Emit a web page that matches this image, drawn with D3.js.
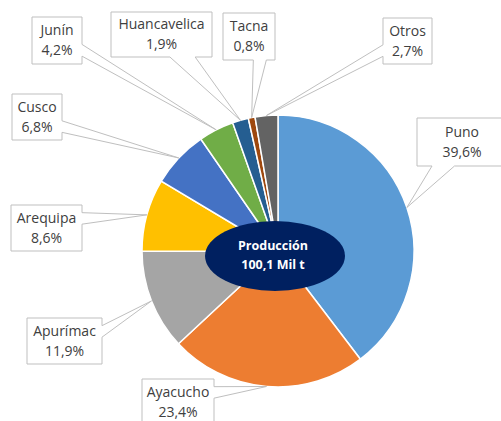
<!DOCTYPE html>
<html>
<head>
<meta charset="utf-8">
<script src="https://cdn.jsdelivr.net/npm/d3@7"></script>
<style>
  body { margin: 0; background: #fff; }
  svg { display: block; }
  .lbl { font-family: "Open Sans", sans-serif; font-size: 14px; fill: #404040; }
  .center-txt { font-family: "Open Sans", sans-serif; font-size: 12.5px; font-weight: bold; fill: #fff; }
</style>
</head>
<body>
<div id="chart"></div>
<script>
// data
const regions = ["Puno", "Ayacucho", "Apurímac", "Arequipa", "Cusco", "Junín", "Huancavelica", "Tacna", "Otros"];
const shares = [39.6, 23.4, 11.9, 8.6, 6.8, 4.2, 1.9, 0.8, 2.7];
const shareLabels = ["39,6%", "23,4%", "11,9%", "8,6%", "6,8%", "4,2%", "1,9%", "0,8%", "2,7%"];
const centerLines = ["Producción", "100,1 Mil t"];

const colors = ["#5b9bd5", "#ed7d31", "#a5a5a5", "#ffc000", "#4472c4", "#70ad47", "#255e91", "#9e480e", "#636363"];

// callout box layout (x, y, w, h) per region
const boxes = {
    "Puno": [417, 118, 90, 48],
    "Ayacucho": [142, 379, 72, 46],
    "Apurímac": [27, 318, 75, 46],
    "Arequipa": [11, 205, 71, 46],
    "Cusco": [12, 94, 50, 46],
    "Junín": [32, 17, 50, 47],
    "Huancavelica": [111, 12, 101, 45],
    "Tacna": [223, 13, 52, 47],
    "Otros": [383, 18, 49, 46]
};

const width = 501, height = 421;
const cx = 278, cy = 251, radius = 136;

const svg = d3.select('#chart').append('svg')
    .attr('width', width)
    .attr('height', height);

const data = regions.map((r, i) => ({ region: r, value: shares[i], label: shareLabels[i], color: colors[i] }));

const pie = d3.pie().sort(null).value(d => d.value);
const arcs = pie(data);
const arc = d3.arc().innerRadius(0).outerRadius(radius);

const g = svg.append('g').attr('transform', `translate(${cx},${cy})`);

g.selectAll('path.slice')
    .data(arcs)
    .join('path')
    .attr('class', 'slice')
    .attr('d', arc)
    .attr('fill', d => d.data.color)
    .attr('stroke', '#fff')
    .attr('stroke-width', 1.5);

// wedge rect callout path, like the office preset
function calloutPath(b, tip) {
    const [x, y, w, h] = b;
    const bx = x + w / 2, by = y + h / 2;
    const dx = tip[0] - bx, dy = tip[1] - by;
    let side;
    if (Math.abs(dx) / (w / 2) > Math.abs(dy) / (h / 2)) side = dx > 0 ? 'right' : 'left';
    else side = dy > 0 ? 'bottom' : 'top';
    let p;
    if (side === 'top' || side === 'bottom') {
        const a = dx < 0 ? x + w * 2 / 12 : x + w * 7 / 12;
        const c = dx < 0 ? x + w * 5 / 12 : x + w * 10 / 12;
        if (side === 'bottom') {
            p = [[x, y], [x + w, y], [x + w, y + h], [c, y + h], tip, [a, y + h], [x, y + h]];
        } else {
            p = [[x, y], [a, y], tip, [c, y], [x + w, y], [x + w, y + h], [x, y + h]];
        }
    } else {
        const a = dy < 0 ? y + h * 2 / 12 : y + h * 7 / 12;
        const c = dy < 0 ? y + h * 5 / 12 : y + h * 10 / 12;
        if (side === 'right') {
            p = [[x, y], [x + w, y], [x + w, a], tip, [x + w, c], [x + w, y + h], [x, y + h]];
        } else {
            p = [[x, y], [x + w, y], [x + w, y + h], [x, y + h], [x, c], tip, [x, a]];
        }
    }
    return 'M' + p.map(q => q.join(',')).join('L') + 'Z';
}

const labels = svg.append('g').attr('class', 'labels');

arcs.forEach(d => {
    const mid = (d.startAngle + d.endAngle) / 2;
    const tip = [cx + radius * Math.sin(mid), cy - radius * Math.cos(mid)];
    const b = boxes[d.data.region];
    const grp = labels.append('g');
    grp.append('path')
        .attr('d', calloutPath(b, tip))
        .attr('fill', '#fff')
        .attr('stroke', '#bfbfbf')
        .attr('stroke-width', 1);
    const tx = b[0] + b[2] / 2, ty = b[1] + b[3] / 2;
    grp.append('text')
        .attr('class', 'lbl')
        .attr('x', tx).attr('y', ty - 10)
        .attr('dy', '0.35em')
        .attr('text-anchor', 'middle')
        .text(d.data.region);
    grp.append('text')
        .attr('class', 'lbl')
        .attr('x', tx).attr('y', ty + 10)
        .attr('dy', '0.35em')
        .attr('text-anchor', 'middle')
        .text(d.data.label);
});

// centre ellipse
svg.append('ellipse')
    .attr('cx', 275).attr('cy', 256)
    .attr('rx', 70).attr('ry', 35)
    .attr('fill', '#002060');

svg.selectAll('text.center-txt')
    .data(centerLines)
    .join('text')
    .attr('class', 'center-txt')
    .attr('x', 273)
    .attr('y', (d, i) => 246 + i * 19)
    .attr('dy', '0.35em')
    .attr('text-anchor', 'middle')
    .text(d => d);
</script>
</body>
</html>
